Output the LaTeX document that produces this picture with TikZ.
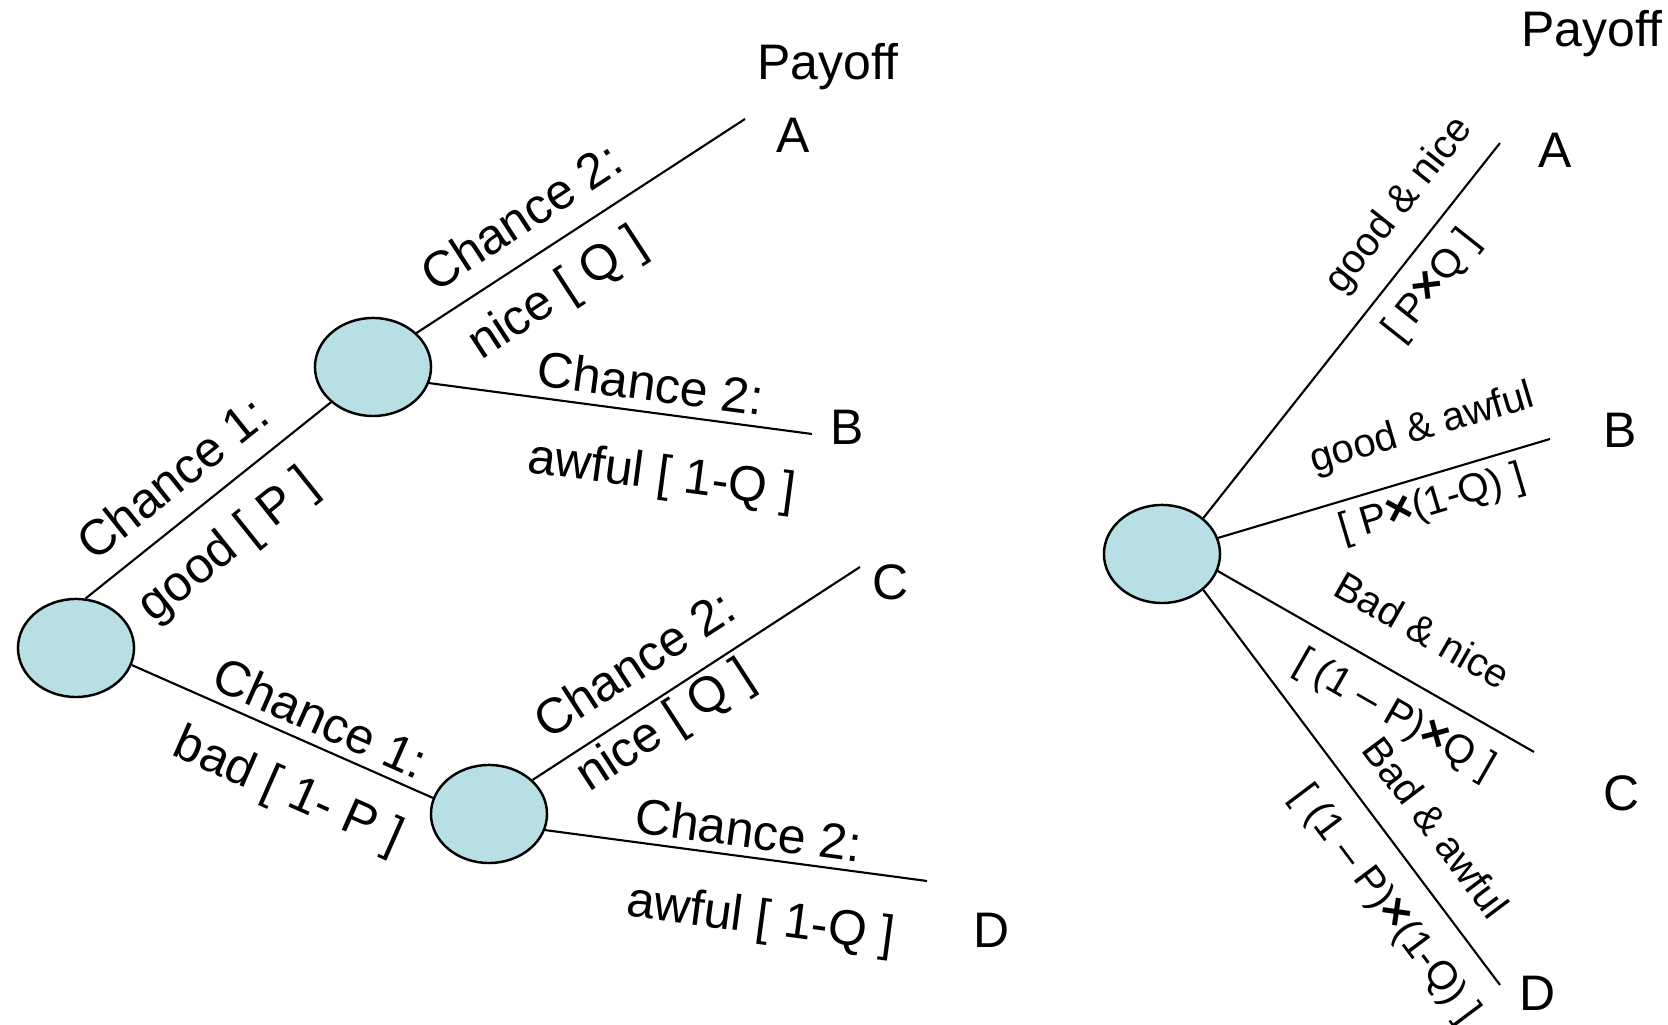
\documentclass[tikz,border=0pt]{standalone}
\usepackage{fontspec}
\setmainfont{Liberation Sans}
\usetikzlibrary{shapes.geometric}
\definecolor{nodeblue}{RGB}{184,224,228}
\newcommand{\tms}{\scalebox{1.15}{\bfseries ×}}

\begin{document}
\begin{tikzpicture}[%
    x=0.01cm, y=-0.01cm,   % one unit is one pixel of the page
    line width=0.6pt,
    ]
% -------------------------------------------------
% Box and label styles
\tikzset{
  chance/.style={draw, ellipse, fill=nodeblue, line width=0.7pt,
    minimum width=11.6mm, minimum height=9.8mm, inner sep=0pt},
  pay/.style={font=\fontsize{14.2}{16}\selectfont},
  lab/.style={sloped, inner sep=0pt, text height=0.72em, text depth=0.21em},
  big/.style={lab, font=\fontsize{14.2}{16}\selectfont},
  small/.style={lab, font=\fontsize{11.4}{13}\selectfont},
  % gap between a label and its branch
  lab over/.style={anchor=south, outer sep=#1},
  lab under/.style={anchor=north, outer sep=#1},
}
\useasboundingbox (0,0) rectangle (1668,1025);
% -------------------------------------------------
% Chance nodes and the ends of the branches
\node [chance] (root) at (76,648) {};
\node [chance] (good) at (373,367) {};
\node [chance] (bad)  at (489,814) {};
\node [chance] (joint) at (1162,554) {};

\coordinate (endA) at (745,119);
\coordinate (endB) at (812,434);
\coordinate (endC) at (860,567);
\coordinate (endD) at (927,881);
\coordinate (endA2) at (1500,143);
\coordinate (endB2) at (1550,439);
\coordinate (endC2) at (1534,752);
\coordinate (endD2) at (1500,985);
% -------------------------------------------------
% Payoffs
\node [pay] (pay1) at (828,67) {Payoff};
\node [pay] (pA) at (793,135) {A};
\node [pay] (pB) at (847,427) {B};
\node [pay] (pC) at (891,582) {C};
\node [pay] (pD) at (992,930) {D};

\node [pay] (pay2) at (1592,34) {Payoff};
\node [pay] (qA) at (1555,150) {A};
\node [pay] (qB) at (1620,430) {B};
\node [pay] (qC) at (1622,793) {C};
\node [pay] (qD) at (1538,993) {D};
% -------------------------------------------------
% Two stage tree
\draw (root.79) -- (good.220)
  node [big, pos=0.455, lab over=1.5mm] {Chance 1:}
  node [big, pos=0.46, lab under=3.7mm] {good [ P ]};
\draw (root.-17) -- (bad.164)
  node [big, pos=0.59, lab over=0.3mm] {Chance 1:}
  node [big, pos=0.59, lab under=4.1mm] {bad [ 1- P ]};
\draw (good.38) -- (endA)
  node [big, pos=0.385, lab over=1.55mm] {Chance 2:}
  node [big, pos=0.355, lab under=3.3mm] {nice [ Q ]};
\draw (good.-16) -- (endB)
  node [big, pos=0.569, lab over=0.4mm] {Chance 2:}
  node [big, pos=0.628, lab under=5mm] {awful [ 1-Q ]};
\draw (bad.38) -- (endC)
  node [big, pos=0.38, lab over=1.7mm] {Chance 2:}
  node [big, pos=0.36, lab under=1.6mm] {nice [ Q ]};
\draw (bad.-16) -- (endD)
  node [big, pos=0.523, lab over=0.2mm] {Chance 2:}
  node [big, pos=0.585, lab under=4.9mm] {awful [ 1-Q ]};
% -------------------------------------------------
% Same tree, folded into one node
\draw (joint.41) -- (endA2)
  node [small, pos=0.767, lab over=2.2mm] {good \& nice}
  node [small, pos=0.677, lab under=2.1mm] {[ P\tms Q ]};
\draw (joint.16) -- (endB2)
  node [small, pos=0.655, lab over=2.8mm] {good \& awful}
  node [small, pos=0.62, lab under=1.4mm] {[ P\tms(1-Q) ]};
\draw (joint.-17) -- (endC2)
  node [small, pos=0.569, lab over=2.9mm] {Bad \& nice}
  node [small, pos=0.618, lab under=2.3mm] {[ (1 – P)\tms Q ]};
\draw (joint.-41) -- (endD2)
  node [small, pos=0.668, lab over=2.2mm] {Bad \& awful}
  node [small, pos=0.73, lab under=2.9mm] {[ (1 – P)\tms(1-Q) ]};
\end{tikzpicture}
\end{document}
